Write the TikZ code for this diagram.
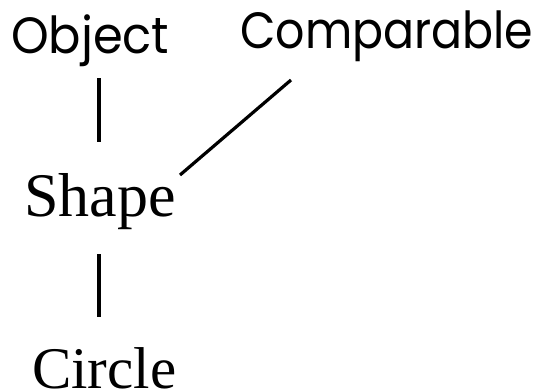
\documentclass[tikz,border=0pt]{standalone}
\usepackage{fontspec}
\setmainfont{Liberation Serif}
\newfontfamily\geofont[FakeStretch=0.9]{Poppins}
\newfontfamily\geofontw[FakeStretch=0.94]{Poppins}
\begin{document}
\begin{tikzpicture}[x=1pt,y=-1pt,
  sanslbl/.style={inner sep=0pt,anchor=base west,font=\geofont\fontsize{51}{60}\selectfont},
  seriflbl/.style={inner sep=0pt,anchor=base west,font=\fontsize{62}{72}\selectfont},
  conn/.style={line width=3.2pt}]
\useasboundingbox (0,0) rectangle (539,391);
\node[sanslbl,font=\geofontw\fontsize{51}{60}\selectfont] (obj) at (11,53) {Object};
\node[sanslbl] (cmp) at (240,48) {Comparable};
\node[seriflbl] (shp) at (24,216) {Shape};
\node[seriflbl,text depth=0pt,font=\fontsize{59}{70}\selectfont] (cir) at (32,388) {Circle};
\coordinate (a1) at (99,78);
\coordinate (a2) at (99,142);
\coordinate (b1) at (291,80);
\coordinate (b2) at (180,175);
\coordinate (c1) at (99,254);
\coordinate (c2) at (99,317);
\draw[conn] (a1) -- (a2);
\draw[conn] (b1) -- (b2);
\draw[conn] (c1) -- (c2);
\end{tikzpicture}
\end{document}
